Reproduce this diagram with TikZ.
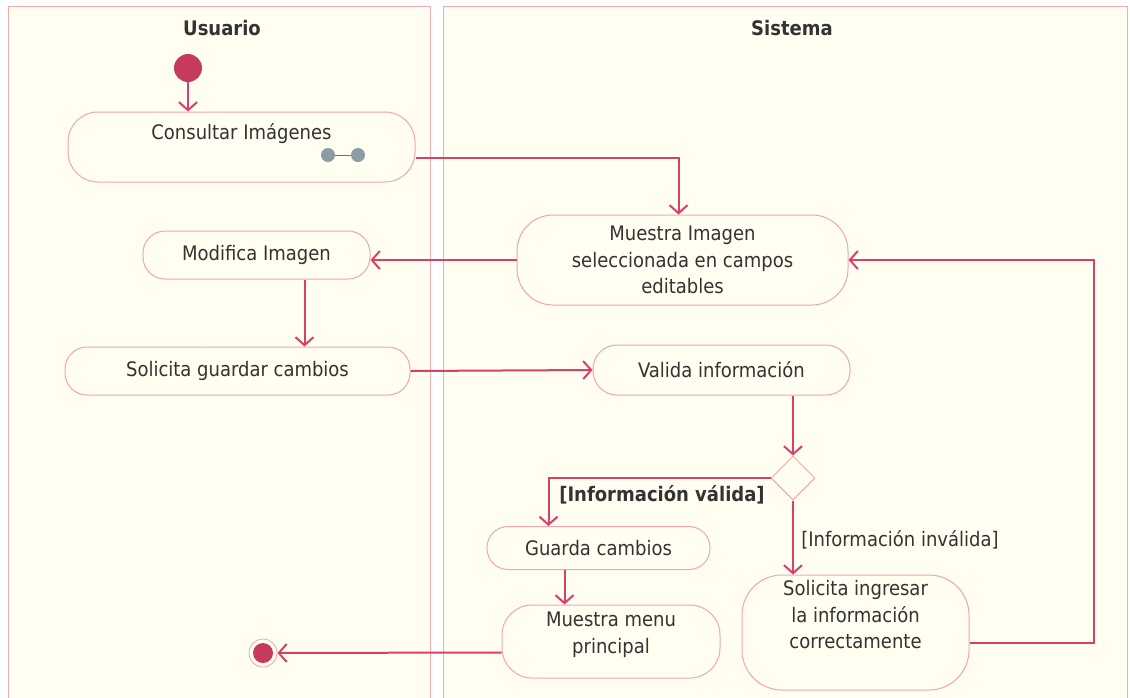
\documentclass[tikz,border=0pt]{standalone}
\usepackage{fontspec}
\setmainfont{DejaVu Sans Condensed}
\usepackage{tikz}
\usetikzlibrary{positioning, arrows.meta, shapes.geometric, calc}
\definecolor{cpaper}{HTML}{FFFEF0}
\definecolor{clane}{HTML}{F2AAB8}
\definecolor{cflow}{HTML}{D6406A}
\definecolor{cact}{HTML}{EFA8A4}
\definecolor{cdot}{HTML}{C63A5E}
\definecolor{crake}{HTML}{8B9CA3}
\definecolor{ctxt}{HTML}{333333}
\tikzset{
  lane/.style={draw=clane, fill=cpaper, line width=0.5pt},
  ttl/.style={font=\bfseries\fontsize{10}{12}\selectfont, text=ctxt},
  act/.style={draw=cact, fill=cpaper, rounded corners=#1, align=center, text=ctxt,
              font=\fontsize{10}{13.25}\selectfont, inner sep=2pt, line width=0.5pt},
  act/.default=11pt,
  dec/.style={draw=cact, fill=cpaper, diamond, minimum size=22pt, inner sep=0pt, line width=0.5pt},
  ini/.style={circle, fill=cdot, minimum size=14pt, inner sep=0pt},
  fin/.style={circle, draw=cact, fill=cpaper, minimum size=14pt, inner sep=0pt,
              path picture={\fill[cdot] (path picture bounding box.center) circle (5pt);}},
  rk/.style={circle, fill=crake, minimum size=7pt, inner sep=0pt},
  grd/.style={font=\fontsize{10}{12}\selectfont, text=ctxt},
  fl/.style={-{Straight Barb[length=4pt, width=9pt]}, draw=cflow, line width=1pt},
}

\begin{document}
\begin{tikzpicture}[x=0.5pt, y=-0.5pt]
  % ---------- lanes ----------
  \fill[white] (0,0) rectangle (1130,697);
  \useasboundingbox (0,0) rectangle (1130,697);
  \draw[lane] (8,700) -- (8,6) -- (430,6) -- (430,700);
  \draw[lane] (443,700) -- (443,6) -- (1127,6) -- (1127,700);
  \node[ttl] (tu) at (222,28) {Usuario};
  \node[ttl] (ts) at (792,28) {Sistema};
  % ---------- Usuario ----------
  \node[ini] (start) at (188,68) {};
  \node[act=15pt, minimum width=173.5pt, minimum height=35pt, text height=7pt, text depth=15pt]
       (consultar) at (241.5,147) {Consultar Imágenes};
  \node[rk] (rk1) at (328,155) {};
  \node[rk] (rk2) at (358,155) {};
  \draw[cflow, line width=0.5pt] (rk1) -- (rk2);
  \node[act, minimum width=113.5pt, minimum height=24pt] (modifica) at (256.5,255) {Modifica Imagen};
  \node[act, minimum width=172.5pt, minimum height=24pt] (guardar) at (237.5,371) {Solicita guardar cambios};
  \node[fin] (end) at (263,653) {};
  % ---------- Sistema ----------
  \node[act=18pt, minimum width=165.5pt, minimum height=45pt] (muestra) at (682.5,260)
       {Muestra Imagen\\seleccionada en campos\\editables};
  \node[act=12pt, minimum width=128.5pt, minimum height=25pt] (valida) at (721.5,370) {Valida información};
  \node[dec] (dec) at (793,478) {};
  \node[act=10.5pt, minimum width=111.5pt, minimum height=21.5pt] (guarda) at (598.5,548) {Guarda cambios};
  \node[act=15pt, minimum width=109pt, minimum height=36.5pt, text depth=9pt]
       (menu) at (611,641.5) {Muestra menu\\principal};
  \node[act=20pt, minimum width=113.5pt, minimum height=57.5pt, text depth=18pt]
       (ingresar) at (855.5,632.5) {Solicita ingresar\\la información\\correctamente};
  \node[grd, font=\bfseries\fontsize{10}{12}\selectfont] (gv) at (662,495) {[Información válida]};
  \node[grd] (gi) at (900,540) {[Información inválida]};
  % ---------- flows ----------
  \draw[fl] (start) -- (start |- consultar.north);
  \draw[fl] ([yshift=-5.5pt]consultar.east) -| ([xshift=-2pt]muestra.north);
  \draw[fl] (muestra.west) -- (muestra.west -| modifica.east);
  \draw[fl] ([xshift=24pt]modifica.south) -- ([xshift=24pt]modifica.south |- guardar.north);
  \draw[fl] (guardar.east) -- (valida.west);
  \draw[fl] (valida.south -| dec.north) -- (dec.north);
  \draw[fl] (dec.west) -| ([xshift=-25pt]guarda.north);
  \draw[fl] (dec.south) -- (dec.south |- ingresar.north);
  \draw[fl] ([xshift=-17pt]guarda.south) -- ([xshift=-17pt]guarda.south |- menu.north);
  \draw[fl] ([yshift=-5.5pt]menu.west) -- (end);
  \draw[fl] ([yshift=-5pt]ingresar.east) -- ++(62pt,0) |- (muestra.east);
\end{tikzpicture}
\end{document}
